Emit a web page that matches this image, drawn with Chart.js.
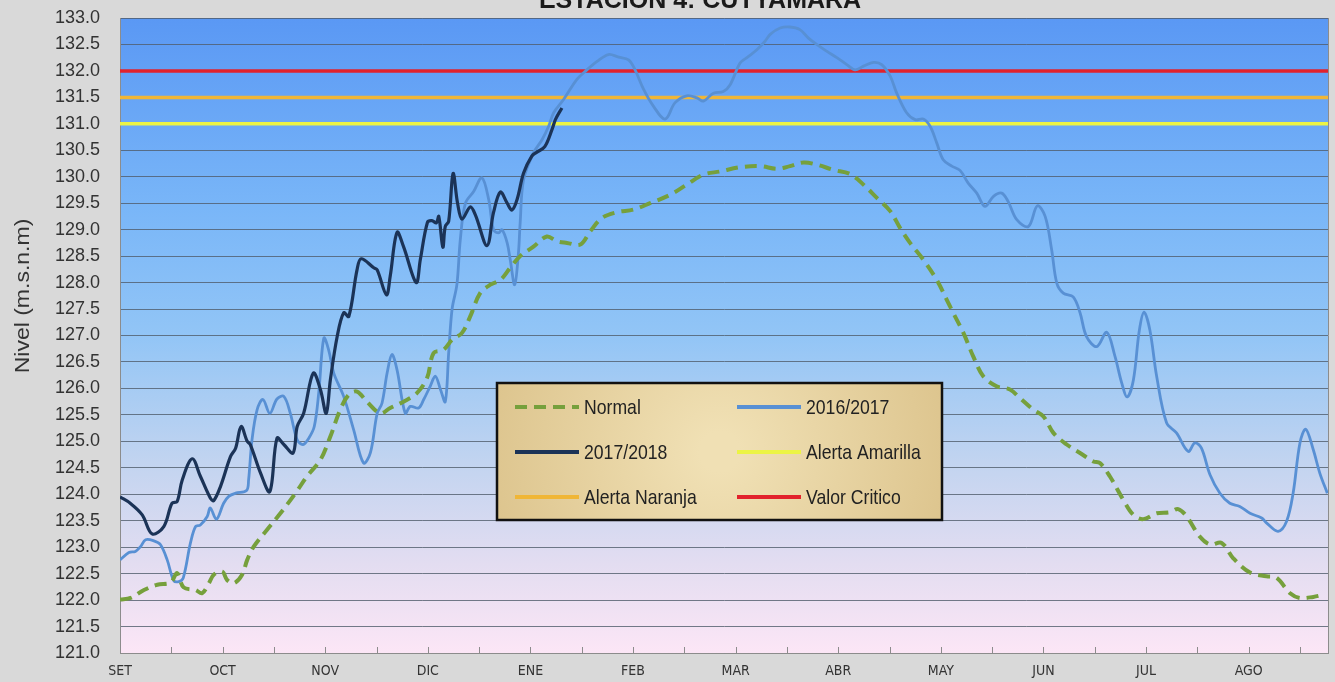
<!DOCTYPE html>
<html>
<head>
<meta charset="utf-8">
<script src="https://cdn.jsdelivr.net/npm/chart.js@4.4.0/dist/chart.umd.min.js"></script>
<style>
  html, body { margin: 0; padding: 0; background: #d9d9d9; overflow: hidden; }
  #wrap { position: relative; width: 1335px; height: 682px; }
</style>
</head>
<body>
<div id="wrap"><canvas id="Chart"></canvas></div>
<script>
// x axis: days from 1 Sept, one label every 30 days
const monthLabels = ["SET","OCT","NOV","DIC","ENE","FEB","MAR","ABR","MAY","JUN","JUL","AGO"];
const xMax = 353.2;

// alert levels (m.s.n.m)
const alertaAmarilla = 131.0;
const alertaNaranja = 131.5;
const valorCritico = 132.0;

// Normal (dashed green)
const normalDays = [0,3.1,7.0,10.9,14.8,16.7,18.6,22.1,24.0,26.0,
  27.4,29.9,31.3,33.3,35.7,37.2,39.1,43.0,46.9,51.3,
  54.7,58.6,61.5,64.4,66.9,69.3,72.2,76.1,79.0,82.9,
  86.8,89.8,91.7,94.6,97.1,100.0,102.4,105.3,108.3,111.2,
  114.1,117.0,120.9,124.8,127.8,130.7,134.6,137.5,140.9,145.3,
  150.1,155.0,160.9,165.7,170.6,175.5,181.3,187.2,192.1,195.9,
  199.8,203.7,208.6,213.5,217.4,221.3,225.2,228.1,231.0,234.9,
  238.8,241.7,243.6,246.6,249.5,252.4,256.3,260.2,263.1,267.0,
  270.0,272.9,276.8,280.7,284.6,286.5,289.4,293.3,296.3,299.2,
  303.1,307.0,309.4,311.9,315.7,318.7,322.1,325.5,330.4,335.2,
  338.2,342.1,345.0,348.9,351.8];
const normalVals = [122.01,122.04,122.19,122.29,122.33,122.51,122.24,122.19,122.13,122.32,
  122.48,122.54,122.38,122.32,122.48,122.76,123.01,123.33,123.64,124.02,
  124.34,124.65,125.09,125.60,125.88,125.94,125.75,125.53,125.63,125.75,
  125.91,126.20,126.67,126.73,126.92,127.05,127.36,127.80,127.96,128.05,
  128.28,128.50,128.68,128.87,128.78,128.75,128.72,128.97,129.22,129.33,
  129.38,129.50,129.66,129.85,130.04,130.10,130.18,130.20,130.15,130.20,
  130.27,130.23,130.13,130.05,129.85,129.60,129.35,129.03,128.75,128.43,
  128.05,127.68,127.43,127.05,126.60,126.23,126.04,125.98,125.82,125.60,
  125.47,125.16,124.94,124.78,124.62,124.59,124.34,123.90,123.61,123.53,
  123.64,123.66,123.72,123.58,123.20,123.05,123.08,122.79,122.52,122.45,
  122.42,122.13,122.04,122.06,122.10];

// 2016/2017
const s1617Days = [0,2.6,4.5,6.0,7.5,9.9,11.8,13.8,15.7,17.2,
  18.5,20.6,22.1,23.5,25.5,26.4,28.2,30.3,31.8,33.8,
  37.0,37.6,38.6,40.1,41.8,43.8,45.9,47.9,49.8,51.8,
  53.5,55.2,56.8,58.1,59.6,61.0,62.5,65.4,68.3,71.2,
  73.2,75.2,76.6,78.1,79.5,81.0,83.4,84.9,87.3,88.8,
  90.7,92.2,93.7,95.1,96.1,97.1,98.5,99.5,101.0,103.4,
  105.8,107.8,109.2,110.7,111.7,113.2,114.1,115.4,116.5,117.0,
  118.0,120.9,123.4,125.3,126.8,129.7,133.6,136.5,139.5,142.8,
  145.8,148.7,150.6,153.1,156.0,159.4,162.3,165.7,168.7,170.6,
  173.5,176.4,178.4,181.3,183.3,186.2,188.6,190.1,193.0,195.9,
  198.8,201.3,203.7,206.7,209.6,212.5,214.9,217.4,220.3,222.7,
  225.2,227.1,230.0,232.5,234.9,236.9,238.8,240.7,243.2,245.6,
  248.0,250.5,252.9,255.4,257.8,259.7,262.2,265.6,268.2,270.5,
  272.4,273.9,275.8,278.7,280.7,282.6,285.6,288.5,290.9,292.9,
  294.5,296.3,298.0,299.4,301.1,303.1,306.0,308.9,312.3,314.3,
  316.2,318.7,321.6,324.5,327.4,330.4,333.8,335.2,338.6,341.1,
  343.0,345.0,346.7,348.9,350.8,353.0];
const s1617Vals = [122.76,122.90,122.92,123.01,123.14,123.12,123.05,122.76,122.37,122.35,
  122.42,123.08,123.39,123.42,123.58,123.74,123.53,123.83,123.96,124.02,
  124.07,124.27,125.03,125.60,125.79,125.53,125.80,125.85,125.53,125.03,
  124.94,125.06,125.28,125.91,126.95,126.73,126.29,125.85,125.22,124.59,
  124.78,125.53,125.72,126.29,126.64,126.35,125.53,125.66,125.63,125.79,
  126.04,126.23,125.98,125.75,126.67,127.50,127.96,128.81,129.50,129.72,
  129.98,129.57,129.00,128.94,129.00,128.75,128.43,127.96,128.56,129.13,
  129.95,130.45,130.70,130.95,131.21,131.46,131.84,132.02,132.18,132.31,
  132.26,132.21,132.02,131.65,131.33,131.09,131.40,131.53,131.49,131.43,
  131.58,131.61,131.74,132.15,132.25,132.40,132.56,132.69,132.81,132.83,
  132.78,132.62,132.50,132.37,132.25,132.12,132.02,132.09,132.16,132.12,
  131.90,131.58,131.21,131.08,131.09,130.95,130.64,130.32,130.20,130.12,
  129.88,129.69,129.44,129.63,129.69,129.53,129.19,129.06,129.45,129.25,
  128.62,127.99,127.80,127.73,127.43,126.98,126.79,127.06,126.61,126.10,
  125.84,126.16,127.08,127.44,127.11,126.23,125.35,125.16,124.81,124.97,
  124.87,124.37,124.02,123.83,123.77,123.64,123.55,123.46,123.30,123.49,
  124.02,124.97,125.23,124.84,124.40,124.02];

// 2017/2018
const s1718Days = [0,3,6.5,9.4,12.8,15.2,16.7,18.2,21.1,23.5,
  26.4,27.4,29.4,32.3,33.8,35.4,37.2,38.1,41.1,43.8,
  45.9,47.9,50.6,51.8,53.7,56.5,58.6,60.3,61.5,63.5,
  65.4,66.9,69.3,70.5,74.2,75.2,77.9,79.0,81.0,82.9,
  86.6,87.8,89.9,91.2,92.5,93.2,94.4,95.1,96.1,97.4,
  98.7,100.0,102.4,103.9,107.3,109.2,111.2,113.2,114.6,116.1,
  118.0,120.4,121.8,124.2,126.3,127.3,129.2];
const s1718Vals = [123.95,123.83,123.61,123.25,123.39,123.83,123.86,124.27,124.67,124.34,
  123.93,123.88,124.15,124.71,124.87,125.28,125.00,124.94,124.40,124.05,
  125.06,124.94,124.78,125.28,125.53,126.29,125.98,125.53,126.16,126.98,
  127.43,127.36,128.24,128.45,128.28,128.24,127.77,128.12,128.95,128.68,
  128.00,128.43,129.14,129.17,129.13,129.25,128.67,129.06,129.16,130.06,
  129.50,129.20,129.43,129.28,128.70,129.32,129.71,129.50,129.37,129.57,
  130.07,130.39,130.46,130.57,130.89,131.08,131.30];

const pts = (days, vals) => days.map((d, i) => ({x: d, y: vals[i]}));
const flat = v => [{x: 0, y: v}, {x: xMax, y: v}];

// condensed text: draw with a horizontal squeeze
function narrowText(ctx, text, x, y, sx) {
  ctx.save();
  ctx.translate(x, y);
  ctx.scale(sx, 1);
  ctx.fillText(text, 0, 0);
  ctx.restore();
}

const decor = {
  id: "decor",
  beforeDraw(chart) {
    const {ctx, chartArea: a} = chart;
    const g = ctx.createLinearGradient(0, a.top, 0, a.bottom);
    g.addColorStop(0, "#5a98f4");
    g.addColorStop(0.3, "#79b6f8");
    g.addColorStop(0.5, "#92c5f6");
    g.addColorStop(0.7, "#c2d4f0");
    g.addColorStop(0.86, "#e3ddf1");
    g.addColorStop(1, "#fce6f6");
    ctx.save();
    ctx.fillStyle = g;
    ctx.fillRect(a.left, a.top, a.right - a.left, a.bottom - a.top);
    ctx.restore();
  },
  afterDatasetsDraw(chart) {
    const {ctx, chartArea: a} = chart;
    const xs = chart.scales.x;
    ctx.save();
    ctx.strokeStyle = "#8c8c8c";
    ctx.lineWidth = 1;
    ctx.beginPath();
    xs.ticks.forEach(t => {
      const px = Math.round(xs.getPixelForValue(t.value)) + 0.5;
      ctx.moveTo(px, a.bottom);
      ctx.lineTo(px, a.bottom - 6);
    });
    ctx.moveTo(a.right + 0.5, a.top);
    ctx.lineTo(a.right + 0.5, a.bottom);
    ctx.stroke();
    ctx.restore();
  },
  afterDraw(chart) {
    const ctx = chart.ctx;
    ctx.save();
    // legend box
    const bx = 497, by = 383, bw = 445, bh = 137;
    const g = ctx.createRadialGradient(bx + bw / 2, by + bh / 2, 20, bx + bw / 2, by + bh / 2, bw / 1.6);
    g.addColorStop(0, "#f0e0b4");
    g.addColorStop(1, "#d9bf86");
    ctx.fillStyle = g;
    ctx.fillRect(bx, by, bw, bh);
    ctx.lineWidth = 2.5;
    ctx.strokeStyle = "#111";
    ctx.strokeRect(bx, by, bw, bh);
    const colX = [515, 737], rowY = [407, 452, 497];
    chart.data.datasets.forEach((ds, i) => {
      const x = colX[i % 2], y = rowY[Math.floor(i / 2)];
      ctx.setLineDash(ds.borderDash || []);
      ctx.strokeStyle = ds.borderColor;
      ctx.lineWidth = 4;
      ctx.beginPath();
      ctx.moveTo(x, y);
      ctx.lineTo(x + 64, y);
      ctx.stroke();
      ctx.setLineDash([]);
      ctx.fillStyle = "#222";
      ctx.font = '21px "Liberation Sans", sans-serif';
      ctx.textBaseline = "middle";
      ctx.textAlign = "left";
      narrowText(ctx, ds.label, x + 69, y + 1, 0.84);
    });
    // title, cut by the top edge
    ctx.fillStyle = "#1a1a1a";
    ctx.font = 'bold 25px "Liberation Sans", sans-serif';
    ctx.textAlign = "center";
    ctx.textBaseline = "alphabetic";
    ctx.fillText("ESTACION 4: CUTYAMARA", 700, 8);
    // y axis title
    ctx.translate(23, 296);
    ctx.rotate(-Math.PI / 2);
    ctx.scale(1.15, 1);
    ctx.font = '20px "Liberation Sans", sans-serif';
    ctx.fillStyle = "#333";
    ctx.textBaseline = "middle";
    ctx.fillText("Nivel (m.s.n.m)", 0, 0);
    ctx.restore();
  }
};

new Chart("Chart", {
  type: "line",
  data: {
    datasets: [{
      label: "Normal",
      data: pts(normalDays, normalVals),
      borderColor: "#76a03c",
      borderWidth: 4,
      borderDash: [12, 7],
      order: 1
    }, {
      label: "2016/2017",
      data: pts(s1617Days, s1617Vals),
      borderColor: "#5890d4",
      borderWidth: 2.8,
      order: 2
    }, {
      label: "2017/2018",
      data: pts(s1718Days, s1718Vals),
      borderColor: "#1b3357",
      borderWidth: 3.2,
      order: 0
    }, {
      label: "Alerta Amarilla",
      data: flat(alertaAmarilla),
      borderColor: "#ecf445",
      borderWidth: 3.5,
      order: 3
    }, {
      label: "Alerta Naranja",
      data: flat(alertaNaranja),
      borderColor: "#f0b636",
      borderWidth: 3.5,
      order: 3
    }, {
      label: "Valor Critico",
      data: flat(valorCritico),
      borderColor: "#e2222c",
      borderWidth: 3.5,
      order: 3
    }]
  },
  options: {
    responsive: true,
    maintainAspectRatio: false,
    animation: false,
    devicePixelRatio: 1,
    parsing: false,
    elements: { point: { radius: 0 }, line: { tension: 0.35, fill: false } },
    layout: { padding: { top: 18, right: 7, left: 0, bottom: 0 } },
    plugins: { legend: { display: false }, title: { display: false }, tooltip: { enabled: false } },
    scales: {
      x: {
        type: "linear",
        min: 0,
        max: xMax,
        afterBuildTicks: s => { s.ticks = Array.from({length: 24}, (_, i) => ({value: i * 15})); },
        afterFit: s => { s.height = 29; s.paddingLeft = 0; s.paddingRight = 0; },
        grid: { drawOnChartArea: false, drawTicks: false },
        border: { color: "#8c8c8c" },
        ticks: {
          autoSkip: false, maxRotation: 0, padding: 10, color: "#333",
          font: { family: '"DejaVu Sans Condensed", sans-serif', size: 14 },
          callback: v => (v % 30 === 0 ? monthLabels[v / 30] : "")
        }
      },
      y: {
        min: 121,
        max: 133,
        afterFit: s => { s.width = 120; s.paddingTop = 0; s.paddingBottom = 0; },
        grid: { color: "rgba(80,92,108,0.8)", lineWidth: 1, drawTicks: false },
        border: { color: "#8c8c8c" },
        ticks: {
          stepSize: 0.5, padding: 20, color: "#333",
          font: { family: '"Liberation Sans", sans-serif', size: 18 },
          callback: v => v.toFixed(1)
        }
      }
    }
  },
  plugins: [decor]
});
</script>
</body>
</html>
